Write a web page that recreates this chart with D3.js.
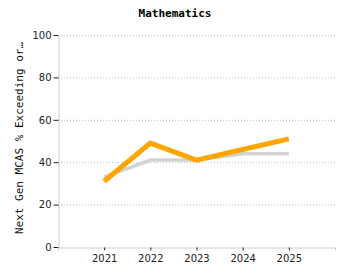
<!DOCTYPE html>
<html><head><meta charset="utf-8">
<script src="https://cdn.jsdelivr.net/npm/d3@7"></script>
<style>body{margin:0;background:#fff}</style>
</head><body>
<svg id="c" width="350" height="280"></svg>
<script>
const years = [2021, 2022, 2023, 2024, 2025];
const schoolValues = [31, 49, 41, 46, 51];
const stateValues = [33, 41, 41, 44, 44];
const yTicks = [0, 20, 40, 60, 80, 100];
const title = "Mathematics";
const yLabel = "Next Gen MCAS % Exceeding or…";

const svg = d3.select("#c");
const L = 58, R = 335, T = 35, B = 247;
const x = d3.scaleLinear().domain([2020, 2026]).range([L, R]);
const y = d3.scaleLinear().domain([0, 100]).range([B, T]);

svg.append("g").selectAll("line").data(yTicks.filter(d => d > 0)).join("line")
  .attr("x1", L).attr("x2", R).attr("y1", d => y(d) + 0.5).attr("y2", d => y(d) + 0.5)
  .attr("stroke", "#bbb").attr("stroke-dasharray", "1,2");

const ya = svg.append("g").attr("transform", `translate(${L + 0.5},0)`)
  .call(d3.axisLeft(y).tickValues(yTicks).tickSize(5).tickPadding(2));
ya.select(".domain").attr("stroke", "#ccc");
ya.selectAll(".tick line").attr("stroke", "#222");
ya.selectAll("text").attr("font-family", "DejaVu Sans, Verdana, sans-serif").attr("font-size", 10).attr("fill", "#222");

const xa = svg.append("g").attr("transform", `translate(0,${B + 0.5})`)
  .call(d3.axisBottom(x).tickValues(years).tickFormat(d3.format("d")).tickSize(3).tickSizeOuter(3).tickPadding(4));
xa.select(".domain").attr("stroke", "#ccc");
xa.selectAll(".tick line").attr("stroke", "#222");
xa.selectAll("text").attr("font-family", "DejaVu Sans, Verdana, sans-serif").attr("font-size", 10).attr("fill", "#222");

const line = d3.line().x((d, i) => x(years[i])).y(d => y(d));
svg.append("path").datum(stateValues).attr("d", line)
  .attr("fill", "none").attr("stroke", "#d3d3d3").attr("stroke-width", 3.5);
svg.append("path").datum(schoolValues).attr("d", line)
  .attr("fill", "none").attr("stroke", "#ffa500").attr("stroke-width", 5)
  .attr("stroke-linejoin", "miter");

svg.append("text").attr("x", 175).attr("y", 17).attr("text-anchor", "middle")
  .attr("font-family", "DejaVu Sans Mono, monospace").attr("font-weight", "bold").attr("font-size", 11)
  .text(title);

svg.append("text").attr("transform", `translate(23,138) rotate(-90)`).attr("text-anchor", "middle")
  .attr("font-family", "DejaVu Sans Mono, monospace").attr("font-size", 11).attr("fill", "#111")
  .text(yLabel);
</script>
</body></html>
